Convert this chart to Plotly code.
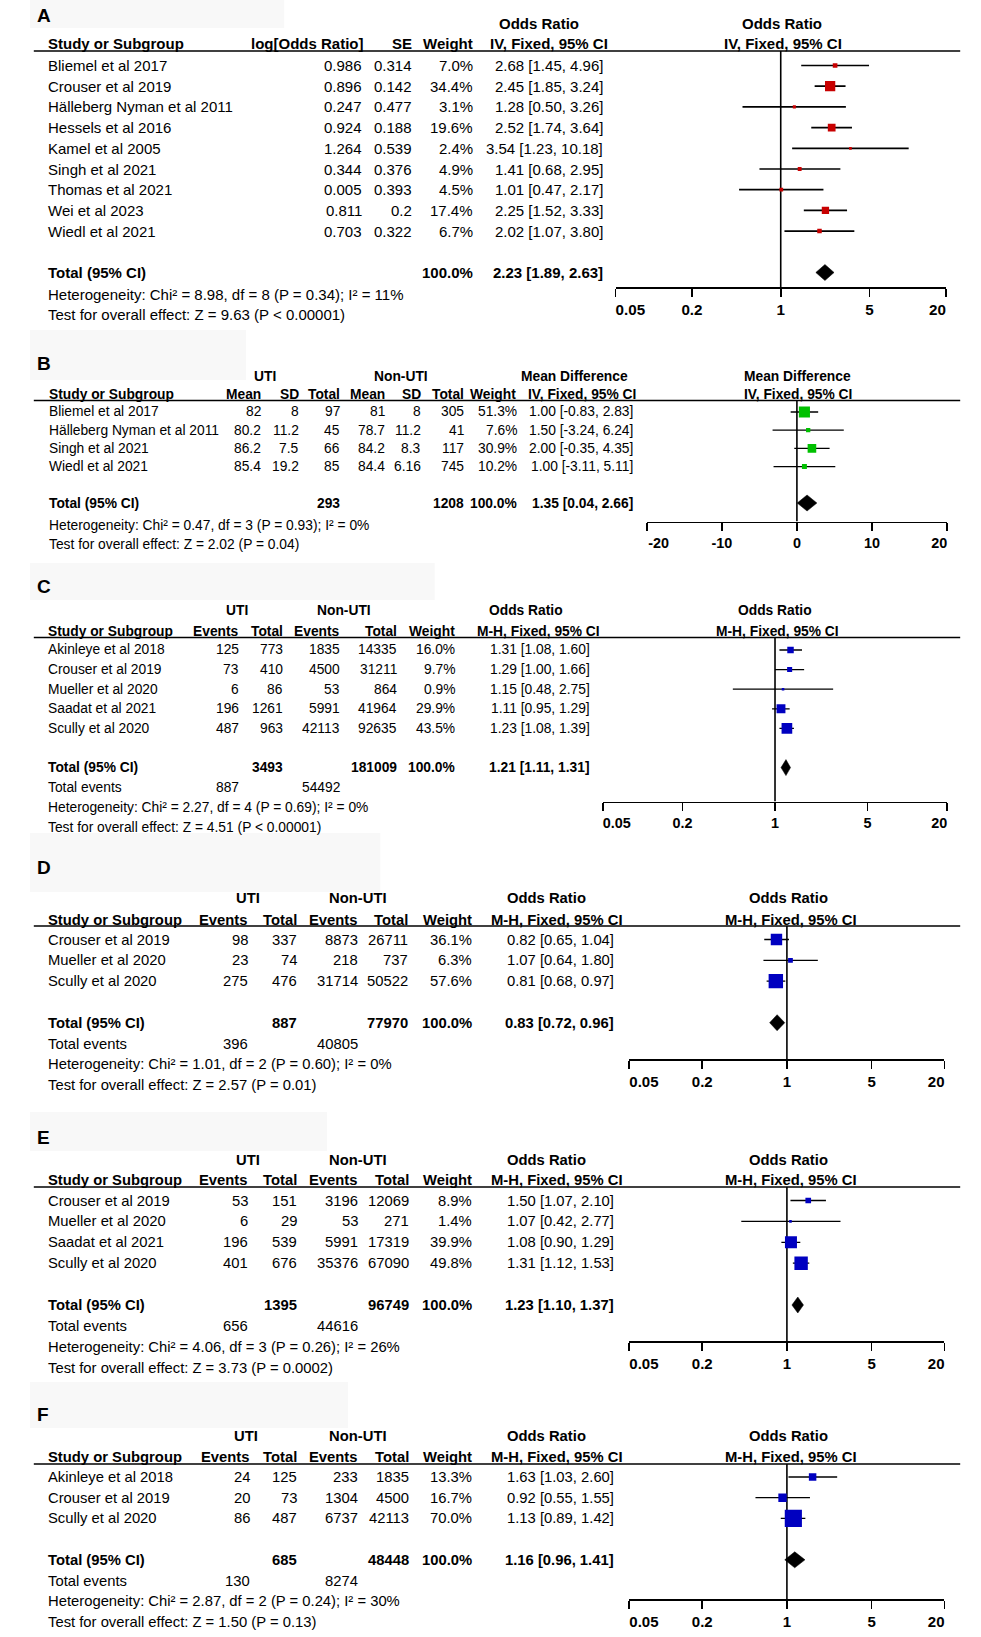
import math
import plotly.graph_objects as go

# ======================= DATA =======================
# Panel A
A_study = ["Bliemel et al 2017", "Crouser et al 2019", "Hälleberg Nyman et al 2011",
           "Hessels et al 2016", "Kamel et al 2005", "Singh et al 2021",
           "Thomas et al 2021", "Wei et al 2023", "Wiedl et al 2021"]
A_logor = [0.986, 0.896, 0.247, 0.924, 1.264, 0.344, 0.005, 0.811, 0.703]
A_se = [0.314, 0.142, 0.477, 0.188, 0.539, 0.376, 0.393, 0.2, 0.322]
A_weight = [7.0, 34.4, 3.1, 19.6, 2.4, 4.9, 4.5, 17.4, 6.7]
A_or = [2.68, 2.45, 1.28, 2.52, 3.54, 1.41, 1.01, 2.25, 2.02]
A_lo = [1.45, 1.85, 0.50, 1.74, 1.23, 0.68, 0.47, 1.52, 1.07]
A_hi = [4.96, 3.24, 3.26, 3.64, 10.18, 2.95, 2.17, 3.33, 3.80]
A_total = [2.23, 1.89, 2.63]
A_het = "Heterogeneity: Chi² = 8.98, df = 8 (P = 0.34); I² = 11%"
A_test = "Test for overall effect: Z = 9.63 (P < 0.00001)"

# Panel B
B_study = ["Bliemel et al 2017", "Hälleberg Nyman et al 2011", "Singh et al 2021", "Wiedl et al 2021"]
B_uti_mean = [82, 80.2, 86.2, 85.4]
B_uti_sd = [8, 11.2, 7.5, 19.2]
B_uti_n = [97, 45, 66, 85]
B_non_mean = [81, 78.7, 84.2, 84.4]
B_non_sd = [8, 11.2, 8.3, 6.16]
B_non_n = [305, 41, 117, 745]
B_weight = [51.3, 7.6, 30.9, 10.2]
B_md = [1.00, 1.50, 2.00, 1.00]
B_lo = [-0.83, -3.24, -0.35, -3.11]
B_hi = [2.83, 6.24, 4.35, 5.11]
B_tot_n = [293, 1208]
B_total = [1.35, 0.04, 2.66]
B_het = "Heterogeneity: Chi² = 0.47, df = 3 (P = 0.93); I² = 0%"
B_test = "Test for overall effect: Z = 2.02 (P = 0.04)"

# Panel C
C_study = ["Akinleye et al 2018", "Crouser et al 2019", "Mueller et al 2020", "Saadat et al 2021", "Scully et al 2020"]
C_uti_ev = [125, 73, 6, 196, 487]
C_uti_n = [773, 410, 86, 1261, 963]
C_non_ev = [1835, 4500, 53, 5991, 42113]
C_non_n = [14335, 31211, 864, 41964, 92635]
C_weight = [16.0, 9.7, 0.9, 29.9, 43.5]
C_or = [1.31, 1.29, 1.15, 1.11, 1.23]
C_lo = [1.08, 1.00, 0.48, 0.95, 1.08]
C_hi = [1.60, 1.66, 2.75, 1.29, 1.39]
C_tot_n = [3493, 181009]
C_tot_ev = [887, 54492]
C_total = [1.21, 1.11, 1.31]
C_het = "Heterogeneity: Chi² = 2.27, df = 4 (P = 0.69); I² = 0%"
C_test = "Test for overall effect: Z = 4.51 (P < 0.00001)"

# Panel D
D_study = ["Crouser et al 2019", "Mueller et al 2020", "Scully et al 2020"]
D_uti_ev = [98, 23, 275]
D_uti_n = [337, 74, 476]
D_non_ev = [8873, 218, 31714]
D_non_n = [26711, 737, 50522]
D_weight = [36.1, 6.3, 57.6]
D_or = [0.82, 1.07, 0.81]
D_lo = [0.65, 0.64, 0.68]
D_hi = [1.04, 1.80, 0.97]
D_tot_n = [887, 77970]
D_tot_ev = [396, 40805]
D_total = [0.83, 0.72, 0.96]
D_het = "Heterogeneity: Chi² = 1.01, df = 2 (P = 0.60); I² = 0%"
D_test = "Test for overall effect: Z = 2.57 (P = 0.01)"

# Panel E
E_study = ["Crouser et al 2019", "Mueller et al 2020", "Saadat et al 2021", "Scully et al 2020"]
E_uti_ev = [53, 6, 196, 401]
E_uti_n = [151, 29, 539, 676]
E_non_ev = [3196, 53, 5991, 35376]
E_non_n = [12069, 271, 17319, 67090]
E_weight = [8.9, 1.4, 39.9, 49.8]
E_or = [1.50, 1.07, 1.08, 1.31]
E_lo = [1.07, 0.42, 0.90, 1.12]
E_hi = [2.10, 2.77, 1.29, 1.53]
E_tot_n = [1395, 96749]
E_tot_ev = [656, 44616]
E_total = [1.23, 1.10, 1.37]
E_het = "Heterogeneity: Chi² = 4.06, df = 3 (P = 0.26); I² = 26%"
E_test = "Test for overall effect: Z = 3.73 (P = 0.0002)"

# Panel F
F_study = ["Akinleye et al 2018", "Crouser et al 2019", "Scully et al 2020"]
F_uti_ev = [24, 20, 86]
F_uti_n = [125, 73, 487]
F_non_ev = [233, 1304, 6737]
F_non_n = [1835, 4500, 42113]
F_weight = [13.3, 16.7, 70.0]
F_or = [1.63, 0.92, 1.13]
F_lo = [1.03, 0.55, 0.89]
F_hi = [2.60, 1.55, 1.42]
F_tot_n = [685, 48448]
F_tot_ev = [130, 8274]
F_total = [1.16, 0.96, 1.41]
F_het = "Heterogeneity: Chi² = 2.87, df = 2 (P = 0.24); I² = 30%"
F_test = "Test for overall effect: Z = 1.50 (P = 0.13)"

OR_TICKS = [0.05, 0.2, 1, 5, 20]
MD_TICKS = [-20, -10, 0, 10, 20]

# ======================= LAYOUT CONSTANTS =======================
W, H = 981, 1637
FONT = "Liberation Sans"
NB = "\u00a0"

fig = go.Figure()
ann, shp, lay = [], [], {}


def names(k):
    s = "" if k == 1 else str(k)
    return "x" + s, "y" + s, "xaxis" + s, "yaxis" + s


def ry(c, px):
    return (px - c["row0"]) / c["dy"]


def text(c, s, x, row, anchor="right", bold=False, size=None):
    ypx = c["row0"] + row * c["dy"]
    ann.append(dict(text=("<b>%s</b>" % s) if bold else s, x=x / W, xref="paper",
                    y=1 - ypx / H, yref="paper", xanchor=anchor, yanchor="middle", showarrow=False,
                    borderpad=0, font=dict(family=FONT, size=size or c["font"], color="black")))


def end_labels(vals, lab, nl, nr):
    out = [lab(v) for v in vals]
    out[0] = NB * nl + out[0]
    out[-1] = out[-1] + NB * nr
    return out


def setup(k, c):
    xid, yid, xa, ya = names(k)
    c["xid"], c["yid"] = xid, yid
    x0, x1 = c["fx"]
    if c["log"]:
        vals = OR_TICKS
        rng = [math.log10(vals[0]), math.log10(vals[-1])]
        tt = end_labels(vals, lambda v: "%g" % v, 7, 4)
        null = 1
    else:
        vals = MD_TICKS
        rng = [vals[0], vals[-1]]
        tt = end_labels(vals, lambda v: "%g" % v, 6, 4)
        null = 0
    lay[xa] = dict(domain=[x0 / W, x1 / W], anchor=yid, type="log" if c["log"] else "linear",
                   range=rng, showline=True, linecolor="black", linewidth=1.7,
                   ticks="outside", ticklen=8, tickwidth=1.7, tickcolor="black",
                   tickmode="array", tickvals=vals, ticktext=tt,
                   tickfont=dict(family=FONT, size=c["tfont"], color="black", weight="bold"),
                   showgrid=False, zeroline=False, fixedrange=True)
    lay[ya] = dict(domain=[1 - c["axis_y"] / H, 1 - c["line_y"] / H], anchor=xid,
                   range=[ry(c, c["axis_y"]), ry(c, c["line_y"])], visible=False, fixedrange=True)
    shp.append(dict(type="line", xref="paper", x0=4 / W, x1=977 / W, yref=yid + " domain",
                    y0=1, y1=1, line=dict(color="black", width=1.6)))
    bx0, by0, bx1, by1 = c["box"]
    shp.append(dict(type="rect", xref="paper", yref="paper", x0=bx0 / W, x1=bx1 / W,
                    y0=1 - by1 / H, y1=1 - by0 / H, fillcolor="#f8f8f8",
                    line=dict(width=0), layer="below"))
    fig.add_trace(go.Scatter(x=[null, null], y=[ry(c, c["line_y"]), ry(c, c["axis_y"])],
                             mode="lines", line=dict(color="black", width=1.6),
                             xaxis=xid, yaxis=yid, hoverinfo="skip", showlegend=False,
                             cliponaxis=False))
    text(c, c["letter"], 6, ry(c, c["label_y"]), anchor="left", bold=True, size=19)


def forest(c, est, lo, hi, weights, total, color):
    n = len(est)
    xs, ys = [], []
    for i in range(n):
        xs += [lo[i], hi[i], None]
        ys += [i, i, None]
    fig.add_trace(go.Scatter(x=xs, y=ys, mode="lines", line=dict(color="black", width=c["ciw"]),
                             xaxis=c["xid"], yaxis=c["yid"], hoverinfo="skip", showlegend=False))
    sizes = [max(2.6, c["msc"] * math.sqrt(w)) for w in weights]
    fig.add_trace(go.Scatter(x=est, y=list(range(n)), mode="markers",
                             marker=dict(symbol="square", size=sizes, color=color, opacity=1,
                                         line=dict(width=0)),
                             xaxis=c["xid"], yaxis=c["yid"], hoverinfo="skip", showlegend=False))
    te, tl, th = total
    ti = n + 1
    h = 8.0 / c["dy"]
    fig.add_trace(go.Scatter(x=[tl, te, th, te, tl], y=[ti, ti - h, ti, ti + h, ti],
                             mode="lines", fill="toself", fillcolor="black",
                             line=dict(color="black", width=0.5),
                             xaxis=c["xid"], yaxis=c["yid"], hoverinfo="skip", showlegend=False))


def ci_str(e, l, h):
    return "%.2f [%.2f, %.2f]" % (e, l, h)


# ---------------- Panel A ----------------
cA = dict(letter="A", label_y=15, h1=24, h2=44, line_y=51, row0=65.5, dy=20.7, het=294.5, test=314,
          axis_y=287, font=15.0, tfont=15.2, fx=(615, 962), log=True, box=(0, 0, 267, 28), ciw=1.7, msc=1.75)
setup(1, cA)
text(cA, "Odds Ratio", 535, ry(cA, cA["h1"]), "center", True)
text(cA, "Odds Ratio", 790, ry(cA, cA["h1"]), "center", True)
h2 = ry(cA, cA["h2"])
text(cA, "Study or Subgroup", 18, h2, "left", True)
text(cA, "log[Odds Ratio]", 352, h2, "right", True)
text(cA, "SE", 402, h2, "right", True)
text(cA, "Weight", 466, h2, "right", True)
text(cA, "IV, Fixed, 95% CI", 545, h2, "center", True)
text(cA, "IV, Fixed, 95% CI", 791, h2, "center", True)
for i in range(len(A_study)):
    text(cA, A_study[i], 18, i, "left")
    text(cA, "%g" % A_logor[i], 350, i)
    text(cA, "%g" % A_se[i], 402, i)
    text(cA, "%.1f%%" % A_weight[i], 466, i)
    text(cA, ci_str(A_or[i], A_lo[i], A_hi[i]), 603, i)
ti = len(A_study) + 1
text(cA, "Total (95% CI)", 18, ti, "left", True)
text(cA, "100.0%", 466, ti, "right", True)
text(cA, ci_str(*A_total), 603, ti, "right", True)
text(cA, A_het, 18, ry(cA, cA["het"]), "left")
text(cA, A_test, 18, ry(cA, cA["test"]), "left")
forest(cA, A_or, A_lo, A_hi, A_weight, A_total, "#c80000")

# ---------------- Panel B ----------------
cB = dict(letter="B", label_y=363, h1=376.5, h2=394, line_y=400.5, row0=412, dy=18.2, het=525.5, test=544,
          axis_y=521.5, font=13.8, tfont=14.4, fx=(647.7, 963.3), log=False, box=(0, 330, 227, 380), ciw=1.3, msc=1.55)
setup(2, cB)
h1 = ry(cB, cB["h1"])
text(cB, "UTI", 247, h1, "center", True)
text(cB, "Non-UTI", 389.5, h1, "center", True)
text(cB, "Mean Difference", 572, h1, "center", True)
text(cB, "Mean Difference", 806, h1, "center", True)
h2 = ry(cB, cB["h2"])
text(cB, "Study or Subgroup", 18.6, h2, "left", True)
colsB = [244, 284, 327, 373.7, 412, 456.7]
for x, s in zip(colsB, ["Mean", "SD", "Total", "Mean", "SD", "Total"]):
    text(cB, s, x, h2, "right", True)
text(cB, "Weight", 511, h2, "right", True)
text(cB, "IV, Fixed, 95% CI", 580, h2, "center", True)
text(cB, "IV, Fixed, 95% CI", 807, h2, "center", True)
for i in range(len(B_study)):
    text(cB, B_study[i], 18.6, i, "left")
    vals = [B_uti_mean[i], B_uti_sd[i], B_uti_n[i], B_non_mean[i], B_non_sd[i], B_non_n[i]]
    for x, v in zip(colsB, vals):
        text(cB, "%g" % v, x, i)
    text(cB, "%.1f%%" % B_weight[i], 513, i)
    text(cB, ci_str(B_md[i], B_lo[i], B_hi[i]), 634, i)
ti = len(B_study) + 1
text(cB, "Total (95% CI)", 18.6, ti, "left", True)
text(cB, "%d" % B_tot_n[0], colsB[2], ti, "right", True)
text(cB, "%d" % B_tot_n[1], colsB[5], ti, "right", True)
text(cB, "100.0%", 513, ti, "right", True)
text(cB, ci_str(*B_total), 634, ti, "right", True)
text(cB, B_het, 18.6, ry(cB, cB["het"]), "left")
text(cB, B_test, 18.6, ry(cB, cB["test"]), "left")
forest(cB, B_md, B_lo, B_hi, B_weight, B_total, "#00c000")


# ---------------- Panels C-F (dichotomous) ----------------
def events_panel(k, c, study, uev, un, nev, nn, wt, est, lo, hi, tot_n, tot_ev, total, het, test):
    setup(k, c)
    cols = c["cols"]
    h1 = ry(c, c["h1"])
    text(c, "UTI", c["hc"][0], h1, "center", True)
    text(c, "Non-UTI", c["hc"][1], h1, "center", True)
    text(c, "Odds Ratio", c["hc"][2], h1, "center", True)
    text(c, "Odds Ratio", c["fc"][0], h1, "center", True)
    h2 = ry(c, c["h2"])
    text(c, "Study or Subgroup", 18.3, h2, "left", True)
    for x, s in zip(cols[:5], ["Events", "Total", "Events", "Total", "Weight"]):
        text(c, s, x, h2, "right", True)
    text(c, "M-H, Fixed, 95% CI", c["hc"][3], h2, "center", True)
    text(c, "M-H, Fixed, 95% CI", c["fc"][1], h2, "center", True)
    for i in range(len(study)):
        text(c, study[i], 18.3, i, "left")
        for x, v in zip(cols[:4], [uev[i], un[i], nev[i], nn[i]]):
            text(c, "%d" % v, x, i)
        text(c, "%.1f%%" % wt[i], cols[4], i)
        text(c, ci_str(est[i], lo[i], hi[i]), cols[5], i)
    ti = len(study) + 1
    text(c, "Total (95% CI)", 18.3, ti, "left", True)
    text(c, "%d" % tot_n[0], cols[1], ti, "right", True)
    text(c, "%d" % tot_n[1], cols[3], ti, "right", True)
    text(c, "100.0%", cols[4], ti, "right", True)
    text(c, ci_str(*total), cols[5], ti, "right", True)
    text(c, "Total events", 18.3, ti + 1, "left")
    text(c, "%d" % tot_ev[0], cols[0], ti + 1)
    text(c, "%d" % tot_ev[1], cols[2], ti + 1)
    text(c, het, 18.3, ry(c, c["het"]), "left")
    text(c, test, 18.3, ry(c, c["test"]), "left")
    forest(c, est, lo, hi, wt, total, "#0000c0")


cC = dict(letter="C", label_y=586.7, h1=611, h2=631, line_y=637.5, row0=650, dy=19.6, het=807, test=827,
          axis_y=801.5, font=13.8, tfont=14.4, fx=(601.7, 963.3), log=True, box=(0, 563, 425, 600), ciw=1.3, msc=1.62,
          cols=[221, 266.7, 327, 387, 447.7, 589], hc=[217, 330, 520.5, 534], fc=[783, 785])
events_panel(3, cC, C_study, C_uti_ev, C_uti_n, C_non_ev, C_non_n, C_weight, C_or, C_lo, C_hi,
             C_tot_n, C_tot_ev, C_total, C_het, C_test)

cD = dict(letter="D", label_y=867, h1=898.3, h2=919.5, line_y=926, row0=939.5, dy=20.8, het=1064.3, test=1085.1,
          axis_y=1059, font=14.8, tfont=15.0, fx=(629.5, 960.5), log=True, box=(0, 833, 368, 892), ciw=1.3, msc=1.9,
          cols=[230.5, 281.5, 346, 398, 465.8, 614.5], hc=[228.5, 344, 542.5, 553.6], fc=[796.7, 799])
events_panel(4, cD, D_study, D_uti_ev, D_uti_n, D_non_ev, D_non_n, D_weight, D_or, D_lo, D_hi,
             D_tot_n, D_tot_ev, D_total, D_het, D_test)

cE = dict(letter="E", label_y=1137, h1=1160, h2=1180, line_y=1187, row0=1200.5, dy=20.9, het=1347, test=1367.7,
          axis_y=1341, font=14.8, tfont=15.0, fx=(629.5, 960.5), log=True, box=(0, 1112, 312, 1151), ciw=1.3, msc=1.9,
          cols=[230.5, 281.5, 346, 399, 465.8, 614.5], hc=[228.5, 344, 542.5, 553.6], fc=[796.7, 799])
events_panel(5, cE, E_study, E_uti_ev, E_uti_n, E_non_ev, E_non_n, E_weight, E_or, E_lo, E_hi,
             E_tot_n, E_tot_ev, E_total, E_het, E_test)

cF = dict(letter="F", label_y=1414.5, h1=1436, h2=1457, line_y=1464, row0=1477, dy=20.7, het=1601.2, test=1622,
          axis_y=1599, font=14.8, tfont=15.0, fx=(629.5, 960.5), log=True, box=(0, 1382, 334, 1428), ciw=1.3, msc=2.05,
          cols=[232, 281.5, 346, 399, 465.8, 614.5], hc=[226.6, 344, 542, 553.6], fc=[796.7, 799])
events_panel(6, cF, F_study, F_uti_ev, F_uti_n, F_non_ev, F_non_n, F_weight, F_or, F_lo, F_hi,
             F_tot_n, F_tot_ev, F_total, F_het, F_test)

fig.update_layout(width=W, height=H, autosize=False, margin=dict(l=0, r=0, t=0, b=0),
                  paper_bgcolor="white", plot_bgcolor="rgba(0,0,0,0)", showlegend=False,
                  annotations=ann, shapes=shp, font=dict(family=FONT, color="black"), **lay)
fig.write_html("out.html", config={"displayModeBar": False, "staticPlot": True},
               post_script="document.body.style.margin='0';document.body.style.overflow='hidden';")
